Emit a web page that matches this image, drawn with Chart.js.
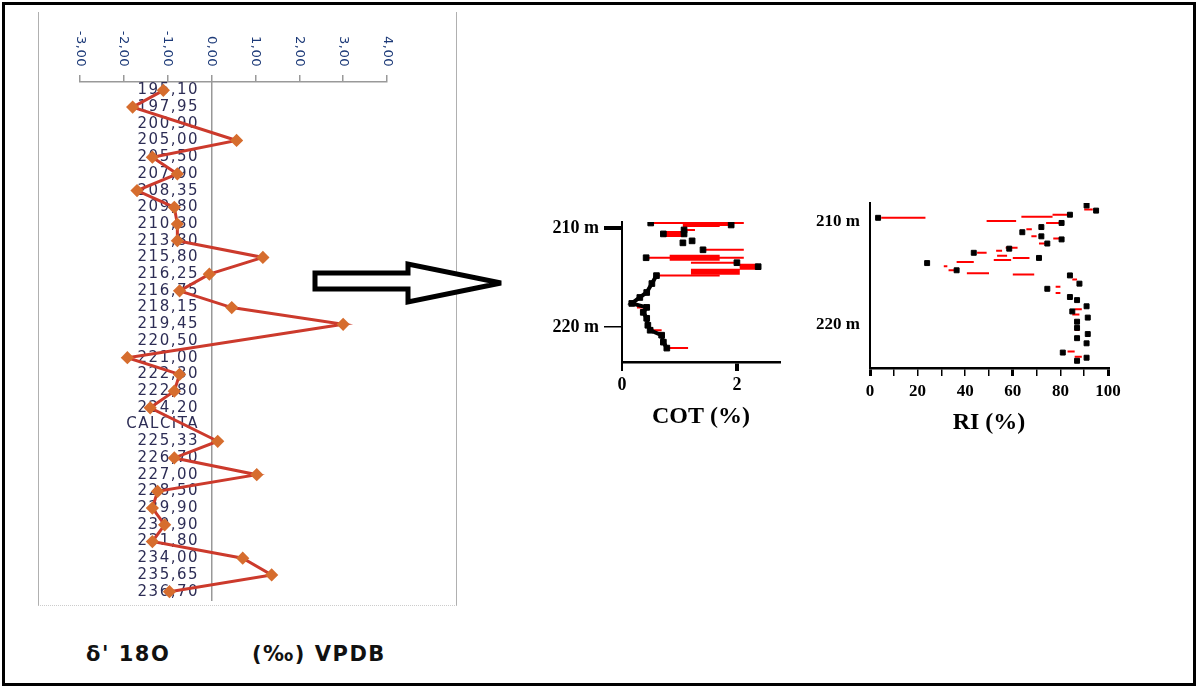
<!DOCTYPE html>
<html>
<head>
<meta charset="utf-8">
<script src="https://cdn.jsdelivr.net/npm/chart.js@4.4.1/dist/chart.umd.min.js"></script>
<style>
  body { margin: 0; background: #fff; width: 1198px; height: 686px; position: relative; overflow: hidden; }
  .frame { position: absolute; left: 2px; top: 2px; width: 1188px; height: 678px; border: 3px solid #000; }
  .panel { position: absolute; left: 38px; top: 12px; width: 417px; height: 593px;
           border-left: 1px solid #b0b0b0; border-right: 1px solid #b0b0b0; border-bottom: 1px dotted #ccc; }
  .box { position: absolute; }
  .caption { position: absolute; top: 642px; font: bold 21px "DejaVu Sans", sans-serif; letter-spacing: 1.5px; color: #111; }
</style>
</head>
<body>
<div class="frame"></div>
<div class="panel"></div>
<div class="box" style="left:38px;top:15px;width:417px;height:594px"><canvas id="isoChart"></canvas></div>
<div class="box" style="left:520px;top:190px;width:270px;height:250px"><canvas id="cotChart"></canvas></div>
<div class="box" style="left:790px;top:190px;width:350px;height:250px"><canvas id="riChart"></canvas></div>

<svg class="box" style="left:300px;top:250px" width="215" height="65">
  <path d="M15 23 L108 23 L108 14 L201 33 L108 52 L108 39 L15 39 Z" fill="#fff" stroke="#000" stroke-width="5" stroke-linejoin="miter"/>
</svg>

<div class="caption" style="left:86px">δ' 18O</div>
<div class="caption" style="left:252px">(‰) VPDB</div>

<script>
// left panel: d18O by sample depth
const depthLabels = ['195,10','197,95','200,90','205,00','205,50','207,90','208,35','209,80','210,30','213,80',
  '215,80','216,25','216,75','218,15','219,45','220,50','221,00','222,30','222,80','224,20','CALCITA',
  '225,33','226,70','227,00','228,50','229,90','230,90','231,80','234,00','235,65','236,70'];
const d18O = [-1.1, -1.8, null, 0.57, -1.35, -0.78, -1.7, -0.85, -0.78, -0.78,
  1.17, -0.05, -0.73, 0.46, 3.0, null, -1.92, -0.73, -0.85, -1.4, null,
  0.14, -0.85, 1.03, -1.23, -1.35, -1.07, -1.35, 0.71, 1.37, -0.96];

// COT profile (black = value, red = horizontal bar to redEnd)
const cotDepth = [209.5, 209.7, 210.2, 210.6, 210.6, 211.3, 211.5, 212.2, 213.0, 213.5, 213.9, 214.8,
  215.6, 216.5, 217.0, 217.6, 218.0, 218.5, 219.1, 219.8, 220.3, 220.8, 221.5, 222.1];
const cotValue = [0.5, 1.9, 1.08, 0.72, 1.08, 1.22, 1.06, 1.41, 0.42, 2.0, 2.37, 0.6,
  0.52, 0.43, 0.31, 0.17, 0.43, 0.37, 0.43, 0.45, 0.49, 0.69, 0.72, 0.78];
const cotRedEnd = [2.12, 1.06, 1.27, 1.08, null, null, null, 2.12, 2.12, 1.2, 2.05, 1.7,
  null, null, null, null, 0.26, null, null, null, 0.69, null, null, 1.15];
const cotBarDepth = [209.6, 210.6, 213.0, 213.9, 214.4];
const cotBarFrom = [1.06, 0.72, 0.83, 2.05, 1.2];
const cotBarTo = [1.7, 1.08, 1.7, 2.37, 2.05];

// RI profile
const riDepth = [208.4, 208.9, 209.3, 209.6, 210.1, 210.5, 211.0, 211.4, 211.7, 212.1, 212.6, 213.0, 213.5,
  214.0, 214.7, 215.2, 216.0, 216.5, 217.3, 217.6, 218.2, 218.7, 219.3, 219.7, 220.3, 220.9, 221.3, 221.8,
  222.7, 223.2, 223.5];
const riValue = [91, 95, 84, 3.4, 80.5, 72, 64, 72, 80.5, 74.5, 58.5, 43.6, 71,
  24, 36.4, 84, 88, 74.5, 84, 87, 91, 85, 91.5, 87, 87, 91.5, 87, 91,
  81, 91, 87];
const riRedDepth = [208.8, 209.3, 209.5, 209.6, 209.9, 210.1, 210.7, 211.4, 211.6, 212.1, 212.5, 212.8, 213.0,
  213.3, 213.5, 213.7, 213.9, 214.3, 214.7, 215.0, 215.1, 215.6, 216.3, 216.9, 218.5, 219.0, 220.5, 222.6, 223.1];
const riRedFrom = [90, 76.7, 63.6, 4.7, 49, 74, 65.7, 67.8, 77, 71, 57, 53, 45,
  53.4, 60, 52, 36.4, 31, 33, 40.7, 60, 85, 78, 78, 86, 85, 86, 83, 86];
const riRedTo = [93.6, 84, 76.7, 23.3, 61.4, 79.7, 68, 70, 80, 74, 62, 55.5, 49,
  57.6, 67, 59.3, 43.6, 32.5, 36, 50, 69, 87, 80, 80, 89, 88, 88, 86, 89];

Chart.defaults.animation = false;
Chart.defaults.plugins.legend.display = false;
Chart.defaults.plugins.tooltip.enabled = false;

function segments(depths, from, to) {
  const pts = [];
  depths.forEach((d, i) => {
    if (to[i] == null) return;
    pts.push({x: from[i], y: d}, {x: to[i], y: d}, {x: null, y: null});
  });
  return pts;
}

const serif = '"Liberation Serif", "Times New Roman", serif';

// wide lettering like the scanned figure, and top labels turned clockwise
const isoLettering = {
  id: 'isoLettering',
  beforeDraw(chart) { chart.ctx.letterSpacing = '1.5px'; },
  afterDraw(chart) {
    const sc = chart.scales.x;
    const ctx = chart.ctx;
    ctx.save();
    ctx.letterSpacing = '0.5px';
    ctx.font = '13px "DejaVu Sans"';
    ctx.fillStyle = '#1d3a78';
    ctx.textAlign = 'right';
    ctx.textBaseline = 'middle';
    sc.ticks.forEach((t, i) => {
      ctx.save();
      ctx.translate(sc.getPixelForTick(i), 52);
      ctx.rotate(Math.PI / 2);
      ctx.fillText(t.label, 0, 0);
      ctx.restore();
    });
    ctx.restore();
    ctx.letterSpacing = '0px';
  }
};

new Chart('isoChart', {
  type: 'line',
  data: {
    labels: depthLabels,
    datasets: [{
      data: d18O,
      spanGaps: true,
      borderColor: '#cc3a2c',
      borderWidth: 3,
      pointStyle: 'rectRot',
      pointRadius: 4.5,
      pointBackgroundColor: '#d66d2e',
      pointBorderColor: '#d66d2e'
    }]
  },
  options: {
    indexAxis: 'y',
    responsive: true,
    maintainAspectRatio: false,
    layout: {padding: {left: 42, right: 68, top: 0, bottom: 0}},
    scales: {
      x: {
        type: 'linear', position: 'top', min: -3, max: 4,
        ticks: {stepSize: 1, color: 'transparent', callback: v => v.toFixed(2).replace('.', ',')},
        grid: {drawOnChartArea: false, tickLength: 7, color: '#999', lineWidth: 1.5},
        border: {color: '#999', width: 1.5},
        afterFit: s => { s.height = 67; }
      },
      y: {
        type: 'category', position: {x: 0}, offset: true,
        ticks: {autoSkip: false, color: '#2d2d55', padding: 0, font: {size: 15, family: 'DejaVu Sans'},
                callback: function (v) { return this.getLabelForValue(v) + '  '; }},
        grid: {display: false},
        border: {color: '#999', width: 1.5}
      }
    }
  },
  plugins: [isoLettering]
});

new Chart('cotChart', {
  type: 'scatter',
  data: {
    datasets: [
      {data: cotDepth.map((d, i) => ({x: cotValue[i], y: d})), pointStyle: 'rect', pointRadius: 4,
       backgroundColor: '#000', borderColor: '#000', showLine: false},
      {data: cotDepth.filter(d => d >= 214.8).map(d => ({x: cotValue[cotDepth.indexOf(d)], y: d})),
       showLine: true, borderColor: '#000', borderWidth: 4, pointRadius: 0},
      {data: segments(cotBarDepth, cotBarFrom, cotBarTo), showLine: true, spanGaps: false,
       borderColor: '#ff0000', borderWidth: 6, pointRadius: 0},
      {data: segments(cotDepth, cotValue, cotRedEnd), showLine: true, spanGaps: false,
       borderColor: '#ff0000', borderWidth: 2, pointRadius: 0}
    ]
  },
  options: {
    responsive: true,
    maintainAspectRatio: false,
    layout: {padding: {left: 0, right: 10, top: 32, bottom: 0}},
    scales: {
      x: {
        type: 'linear', position: 'bottom', min: 0, max: 2.75,
        afterBuildTicks: s => { s.ticks = [{value: 0}, {value: 2}]; },
        ticks: {color: '#000', padding: 4, font: {family: serif, size: 18, weight: 'bold'}},
        grid: {drawOnChartArea: false, tickLength: 9, color: '#000',
               lineWidth: c => (c.tick && c.tick.value === 2 ? 4 : 2)},
        border: {color: '#000', width: 2.5},
        title: {display: true, text: 'COT (%)', color: '#000', padding: {top: 4, bottom: 9},
                font: {family: serif, size: 24, weight: 'bold'}},
        afterFit: s => { s.height = 78; }
      },
      y: {
        type: 'linear', position: 'left', reverse: true, min: 209.4, max: 223.5,
        afterBuildTicks: s => { s.ticks = [{value: 210}, {value: 220}]; },
        ticks: {color: '#000', padding: 5, callback: v => v + ' m',
                font: {family: serif, size: 18, weight: 'bold'}},
        grid: {drawOnChartArea: false, tickLength: 18, color: '#000',
               lineWidth: c => (c.tick && c.tick.value === 210 ? 4 : 1.5)},
        border: {color: '#000', width: 2},
        afterFit: s => { s.width = 102; }
      }
    }
  }
});

new Chart('riChart', {
  type: 'scatter',
  data: {
    datasets: [
      {data: riDepth.map((d, i) => ({x: riValue[i], y: d})), pointStyle: 'rect', pointRadius: 3.5,
       backgroundColor: '#000', borderColor: '#000', showLine: false},
      {data: segments(riRedDepth, riRedFrom, riRedTo), showLine: true, spanGaps: false,
       borderColor: '#ff0000', borderWidth: 2, pointRadius: 0}
    ]
  },
  options: {
    responsive: true,
    maintainAspectRatio: false,
    layout: {padding: {left: 0, right: 32, top: 13, bottom: 0}},
    scales: {
      x: {
        type: 'linear', position: 'bottom', min: 0, max: 100,
        ticks: {stepSize: 10, autoSkip: false, maxRotation: 0, color: '#000', padding: 5,
                callback: v => (v % 20 === 0 ? v : ''),
                font: {family: serif, size: 17, weight: 'bold'}},
        grid: {drawOnChartArea: false, tickLength: 8, color: '#000',
               lineWidth: c => (c.tick && [0, 60, 100].includes(c.tick.value) ? 3 : 1.5)},
        border: {color: '#000', width: 2.5},
        title: {display: true, text: 'RI (%)', color: '#000', padding: {top: 4, bottom: 3},
                font: {family: serif, size: 24, weight: 'bold'}},
        afterFit: s => { s.height = 72; }
      },
      y: {
        type: 'linear', position: 'left', reverse: true, min: 208.16, max: 224.2,
        afterBuildTicks: s => { s.ticks = [{value: 210}, {value: 220}]; },
        ticks: {color: '#000', padding: 2, callback: v => v + ' m',
                font: {family: serif, size: 17, weight: 'bold'}},
        grid: {drawOnChartArea: false, drawTicks: true, tickLength: 8, color: 'transparent'},
        border: {color: '#000', width: 2},
        afterFit: s => { s.width = 80; }
      }
    }
  }
});
</script>
</body>
</html>
